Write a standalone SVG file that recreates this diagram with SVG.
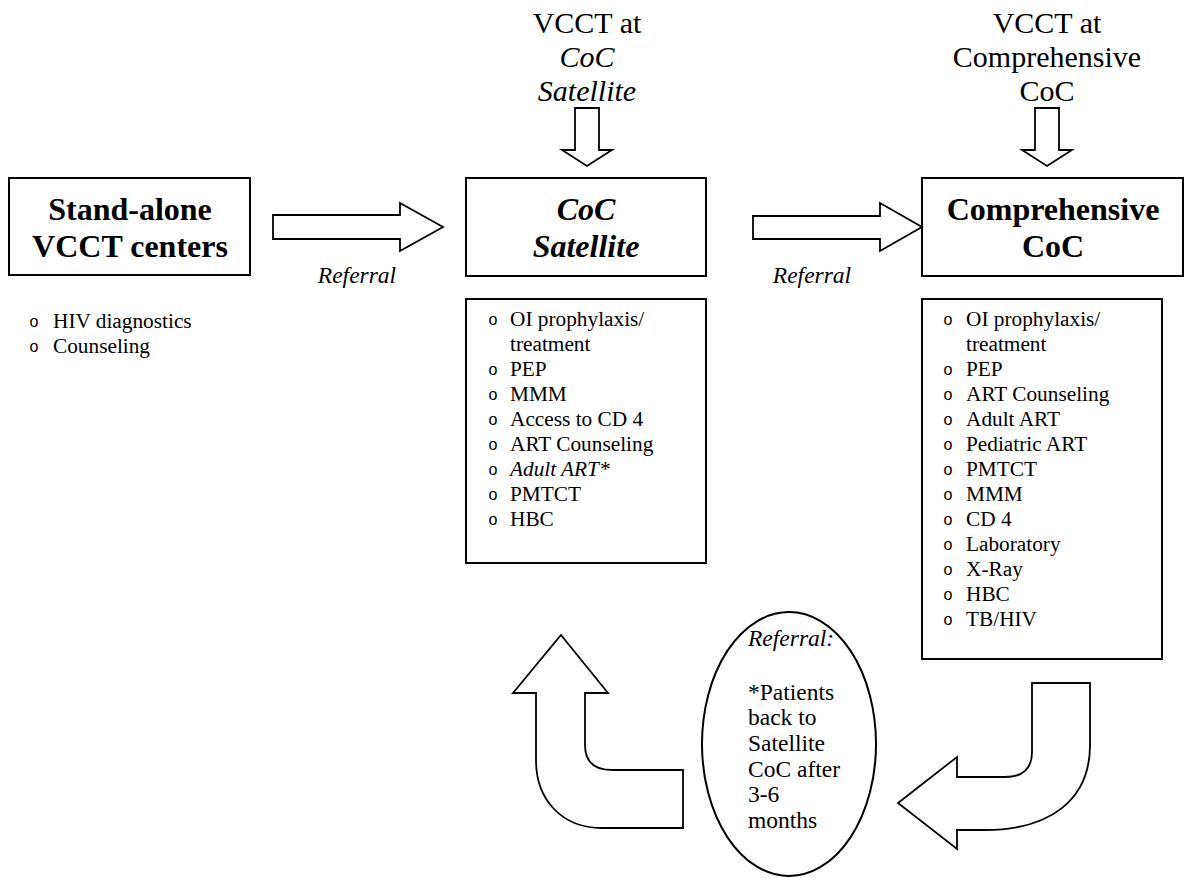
<svg xmlns="http://www.w3.org/2000/svg" width="1192" height="878" viewBox="0 0 1192 878">
<style>
  .box { fill: #fff; stroke: #000; stroke-width: 2; }
  .blk { fill: #fff; stroke: #000; stroke-width: 1.8; stroke-linejoin: miter; }
  .t { font-family: "Liberation Serif", "Times New Roman", serif; fill: #000; }
  .title { font-size: 32px; font-weight: bold; text-anchor: middle; }
  .head { font-size: 30px; text-anchor: middle; }
  .li { font-size: 21.3px; }
  .bul { font-family: "Liberation Sans", Arial, sans-serif; font-size: 16px; text-anchor: middle; fill: #000; }
  .lbl { font-size: 23.5px; font-style: italic; text-anchor: middle; }
  .ell { font-size: 23.5px; }
  .it { font-style: italic; }
</style>

<g id="header-satellite">
  <text class="t head" x="587" y="33">VCCT at</text>
  <text class="t head it" x="587" y="67">CoC</text>
  <text class="t head it" x="587" y="101">Satellite</text>
</g>

<g id="header-comprehensive">
  <text class="t head" x="1047" y="33">VCCT at</text>
  <text class="t head" x="1047" y="67">Comprehensive</text>
  <text class="t head" x="1047" y="101">CoC</text>
</g>

<g id="standalone">
  <rect class="box" x="9" y="178" width="241" height="97"/>
  <text class="t title" x="130" y="220">Stand-alone</text>
  <text class="t title" x="130" y="257">VCCT centers</text>
</g>

<g id="standalone-services">
  <text class="bul" x="34" y="327">o</text>
  <text class="t li" x="53" y="328">HIV diagnostics</text>
  <text class="bul" x="34" y="352">o</text>
  <text class="t li" x="53" y="353">Counseling</text>
</g>

<g id="satellite">
  <rect class="box" x="466" y="178" width="240" height="98"/>
  <text class="t title it" x="586" y="220">CoC</text>
  <text class="t title it" x="586" y="257">Satellite</text>
</g>

<g id="satellite-services">
  <rect class="box" x="466" y="299" width="240" height="264"/>
  <g class="bul">
    <text x="493" y="325">o</text>
    <text x="493" y="375">o</text>
    <text x="493" y="400">o</text>
    <text x="493" y="425">o</text>
    <text x="493" y="450">o</text>
    <text x="493" y="475">o</text>
    <text x="493" y="500">o</text>
    <text x="493" y="525">o</text>
  </g>
  <g class="t li">
    <text x="510" y="326">OI prophylaxis/</text>
    <text x="510" y="351">treatment</text>
    <text x="510" y="376">PEP</text>
    <text x="510" y="401">MMM</text>
    <text x="510" y="426">Access to CD 4</text>
    <text x="510" y="451">ART Counseling</text>
    <text x="510" y="476" font-style="italic">Adult ART*</text>
    <text x="510" y="501">PMTCT</text>
    <text x="510" y="526">HBC</text>
  </g>
</g>

<g id="comprehensive">
  <rect class="box" x="922" y="178" width="261" height="98"/>
  <text class="t title" x="1053" y="220">Comprehensive</text>
  <text class="t title" x="1053" y="257">CoC</text>
</g>

<g id="comprehensive-services">
  <rect class="box" x="922" y="299" width="240" height="360"/>
  <g class="bul">
    <text x="948" y="325">o</text>
    <text x="948" y="375">o</text>
    <text x="948" y="400">o</text>
    <text x="948" y="425">o</text>
    <text x="948" y="450">o</text>
    <text x="948" y="475">o</text>
    <text x="948" y="500">o</text>
    <text x="948" y="525">o</text>
    <text x="948" y="550">o</text>
    <text x="948" y="575">o</text>
    <text x="948" y="600">o</text>
    <text x="948" y="625">o</text>
  </g>
  <g class="t li">
    <text x="966" y="326">OI prophylaxis/</text>
    <text x="966" y="351">treatment</text>
    <text x="966" y="376">PEP</text>
    <text x="966" y="401">ART Counseling</text>
    <text x="966" y="426">Adult ART</text>
    <text x="966" y="451">Pediatric ART</text>
    <text x="966" y="476">PMTCT</text>
    <text x="966" y="501">MMM</text>
    <text x="966" y="526">CD 4</text>
    <text x="966" y="551">Laboratory</text>
    <text x="966" y="576">X-Ray</text>
    <text x="966" y="601">HBC</text>
    <text x="966" y="626">TB/HIV</text>
  </g>
</g>

<g id="referral-back">
  <ellipse class="box" cx="789" cy="744" rx="87" ry="132"/>
  <g class="t ell">
    <text x="748" y="646" font-style="italic">Referral:</text>
    <text x="748" y="700">*Patients</text>
    <text x="748" y="725">back to</text>
    <text x="748" y="751">Satellite</text>
    <text x="748" y="777">CoC after</text>
    <text x="748" y="802">3-6</text>
    <text x="748" y="828">months</text>
  </g>
</g>

<g id="connectors">
  <polygon class="blk" points="575,108 599,108 599,150 612,150 587,166 562,150 575,150"/>
  <polygon class="blk" points="1035,108 1059,108 1059,150 1072,150 1047,166 1022,150 1035,150"/>
  <polygon class="blk" points="273,215 400,215 400,203 443,227 400,251 400,239 273,239"/>
  <text class="t lbl" x="357" y="283">Referral</text>
  <polygon class="blk" points="753,216 880,216 880,203 922,227 880,251 880,239 753,239"/>
  <text class="t lbl" x="812" y="283">Referral</text>
  <path class="blk" d="M 1032,683 L 1090,683 L 1090,745 C 1090,800 1050,830 985,830 L 957,830 L 957,849 L 898,803 L 957,757 L 957,777 L 1005,777 Q 1032,777 1032,752 Z"/>
  <path class="blk" d="M 561,635 L 608,693 L 585,693 L 585,745 Q 585,770 612,770 L 683,770 L 683,828 L 602,828 C 562,828 536,800 536,760 L 536,693 L 513,693 Z"/>
</g>
</svg>
